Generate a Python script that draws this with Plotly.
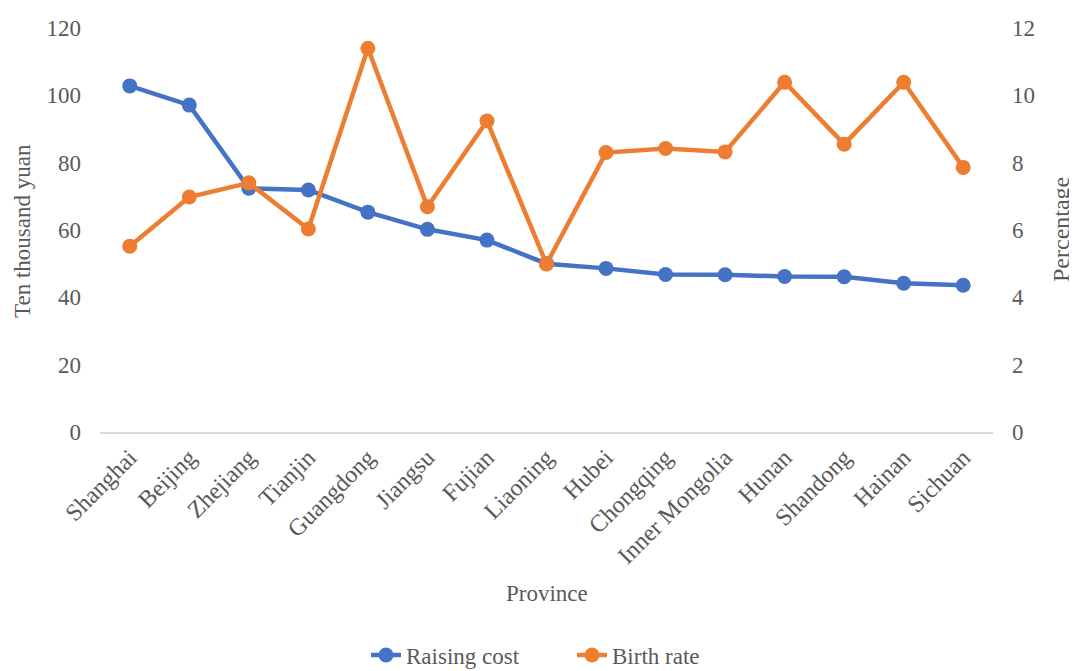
import plotly.graph_objects as go

provinces = ["Shanghai", "Beijing", "Zhejiang", "Tianjin", "Guangdong", "Jiangsu", "Fujian",
             "Liaoning", "Hubei", "Chongqing", "Inner Mongolia", "Hunan", "Shandong", "Hainan", "Sichuan"]
raising_cost = [102.8, 97.1, 72.4, 71.9, 65.3, 60.2, 57.0, 50.0, 48.6, 46.8, 46.7, 46.2, 46.1, 44.2, 43.6]
birth_rate = [5.52, 6.98, 7.40, 6.03, 11.40, 6.69, 9.24, 4.99, 8.30, 8.42, 8.32, 10.39, 8.55, 10.39, 7.86]

left_ticks = [0, 20, 40, 60, 80, 100, 120]
right_ticks = [0, 2, 4, 6, 8, 10, 12]

FONT = "Liberation Serif, Times New Roman, serif"
GRAY = "#595959"
BLUE = "#4472C4"
ORANGE = "#ED7D31"
FS = 23

# plot area in the reference: x 100..993, y 28..432 (page body has an 8px margin)
PL, PR, PT, PB = 100, 993, 28, 432
OFF = 8
W, H = 1077, 671
PW, PH = PR - PL, PB - PT


def px(x):
    return (x - PL) / PW


def py(y):
    return (PB - y) / PH


fig = go.Figure()
fig.add_trace(go.Scatter(x=provinces, y=raising_cost, name="Raising cost", mode="lines+markers",
                         line=dict(color=BLUE, width=4.5), marker=dict(size=15, color=BLUE)))
fig.add_trace(go.Scatter(x=provinces, y=birth_rate, name="Birth rate", mode="lines+markers",
                         yaxis="y2", line=dict(color=ORANGE, width=4.5), marker=dict(size=15, color=ORANGE)))

fig.update_layout(
    width=W, height=H,
    margin=dict(l=PL - OFF, r=W - (PR - OFF), t=PT - OFF, b=H - (PB - OFF), autoexpand=False),
    paper_bgcolor="white", plot_bgcolor="white",
    font=dict(family=FONT, color=GRAY, size=FS),
    showlegend=True,
    legend=dict(orientation="h", x=px(572), xanchor="center", y=py(655), yanchor="middle",
                font=dict(size=FS, color=GRAY), tracegroupgap=0,
                entrywidth=161, entrywidthmode="pixels"),
    xaxis=dict(type="category", showgrid=False, showline=True, linecolor="#D9D9D9", linewidth=2,
               ticks="", tickangle=-45, tickfont=dict(size=24, color=GRAY), zeroline=False,
               automargin=False, range=[-0.5, len(provinces) - 0.5]),
    yaxis=dict(range=[0, 120], tickvals=left_ticks, showgrid=False, zeroline=False, showline=False,
               ticks="", tickfont=dict(size=FS, color=GRAY), ticklabelstandoff=18, automargin=False),
    yaxis2=dict(range=[0, 12], tickvals=right_ticks, overlaying="y", side="right", showgrid=False,
                zeroline=False, showline=False, ticks="", tickfont=dict(size=FS, color=GRAY),
                ticklabelstandoff=18, automargin=False),
    annotations=[
        dict(text="Ten thousand yuan", xref="paper", yref="paper", x=px(22), y=py(231),
             textangle=-90, showarrow=False, xanchor="center", yanchor="middle",
             font=dict(size=FS, color=GRAY)),
        dict(text="Percentage", xref="paper", yref="paper", x=px(1061), y=py(230),
             textangle=-90, showarrow=False, xanchor="center", yanchor="middle",
             font=dict(size=24, color=GRAY)),
        dict(text="Province", xref="paper", yref="paper", x=px(547), y=py(593),
             showarrow=False, xanchor="center", yanchor="middle", font=dict(size=FS, color=GRAY)),
    ],
)

fig.write_html("out.html")
